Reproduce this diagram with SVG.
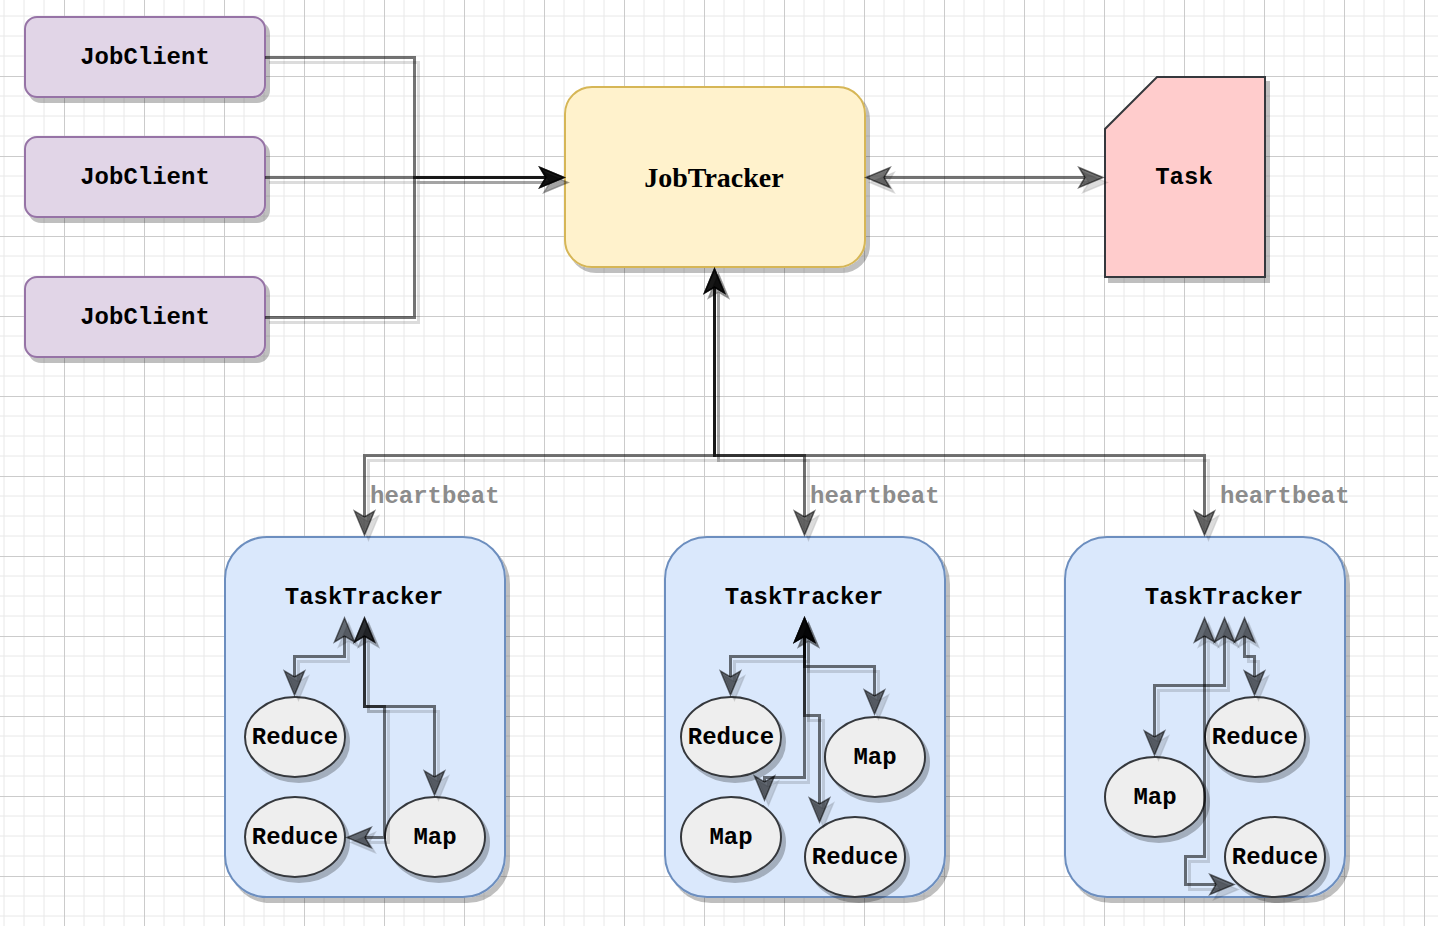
<svg xmlns="http://www.w3.org/2000/svg" width="1438" height="926" viewBox="0 0 1438 926">
<style>
.jc{fill:#e1d5e7;stroke:#9673a6;stroke-width:2}
.jt{fill:#fff2cc;stroke:#d6b656;stroke-width:2}
.tk{fill:#ffcccc;stroke:#36393d;stroke-width:2}
.tt{fill:#dae8fc;stroke:#6c8ebf;stroke-width:2}
.el{fill:#eeeeee;stroke:#36393d;stroke-width:2}
.m{font-family:"Liberation Mono","Courier New",monospace;font-weight:bold;font-size:24px;fill:#000;text-anchor:middle}
.s{font-family:"Liberation Serif","Times New Roman",serif;font-weight:bold;font-size:28px;fill:#000;text-anchor:middle}
.hb{font-family:"Liberation Mono","Courier New",monospace;font-weight:bold;font-size:24px;fill:#8c8c8c}
.e{fill:none;stroke:#000;stroke-opacity:0.55;stroke-width:3;marker-end:url(#arr);filter:url(#sh)}
.b{marker-start:url(#arr)}
</style>
<defs>
<pattern id="grid" patternUnits="userSpaceOnUse" x="-6" y="6" width="80" height="80">
<path d="M10,0V80M30,0V80M50,0V80M0,10H80M0,30H80M0,50H80" stroke="#e8e8e8" stroke-width="1" fill="none"/>
<path d="M70.5,0V80M0,70.5H80" stroke="#cbcbcb" stroke-width="1" fill="none"/>
</pattern>
<filter id="sh" filterUnits="userSpaceOnUse" x="0" y="0" width="1438" height="926">
<feOffset in="SourceAlpha" dx="4" dy="5" result="o"/>
<feColorMatrix in="o" type="matrix" values="0 0 0 0 0  0 0 0 0 0  0 0 0 0 0  0 0 0 0.25 0" result="s"/>
<feMerge><feMergeNode in="s"/><feMergeNode in="SourceGraphic"/></feMerge>
</filter>
<marker id="arr" markerUnits="userSpaceOnUse" markerWidth="26" markerHeight="22" refX="6" refY="10" orient="auto-start-reverse" overflow="visible">
<path d="M0,0L24,10L0,20L6,10Z" fill="#000" fill-opacity="0.55" stroke="#000" stroke-opacity="0.55" stroke-width="1.5" stroke-linejoin="miter"/>
</marker>
</defs>
<rect x="0" y="0" width="1438" height="926" fill="#ffffff"/>
<rect x="0" y="0" width="1438" height="926" fill="url(#grid)"/>

<g id="jobclient-1"><rect class="jc" x="25" y="17" width="240" height="80" rx="12" filter="url(#sh)"/><text class="m" x="145" y="64">JobClient</text></g>
<g id="jobclient-2"><rect class="jc" x="25" y="137" width="240" height="80" rx="12" filter="url(#sh)"/><text class="m" x="145" y="184">JobClient</text></g>
<g id="jobclient-3"><rect class="jc" x="25" y="277" width="240" height="80" rx="12" filter="url(#sh)"/><text class="m" x="145" y="324">JobClient</text></g>

<g id="jobtracker"><rect class="jt" x="565" y="87" width="300" height="180" rx="27" filter="url(#sh)"/><text class="s" x="714" y="187">JobTracker</text></g>

<g id="task"><path class="tk" d="M1157,77H1265V277H1105V129Z" filter="url(#sh)"/><text class="m" x="1184" y="184">Task</text></g>

<g id="tasktracker-1"><rect class="tt" x="225" y="537" width="280" height="360" rx="42" filter="url(#sh)"/><text class="m" x="364" y="604">TaskTracker</text></g>
<g id="tasktracker-2"><rect class="tt" x="665" y="537" width="280" height="360" rx="42" filter="url(#sh)"/><text class="m" x="804" y="604">TaskTracker</text></g>
<g id="tasktracker-3"><rect class="tt" x="1065" y="537" width="280" height="360" rx="42" filter="url(#sh)"/><text class="m" x="1224" y="604">TaskTracker</text></g>

<g id="tt1-reduce-1"><ellipse class="el" cx="295" cy="737" rx="50" ry="40" filter="url(#sh)"/><text class="m" x="295" y="744">Reduce</text></g>
<g id="tt1-reduce-2"><ellipse class="el" cx="295" cy="837" rx="50" ry="40" filter="url(#sh)"/><text class="m" x="295" y="844">Reduce</text></g>
<g id="tt1-map"><ellipse class="el" cx="435" cy="837" rx="50" ry="40" filter="url(#sh)"/><text class="m" x="435" y="844">Map</text></g>

<g id="tt2-reduce-1"><ellipse class="el" cx="731" cy="737" rx="50" ry="40" filter="url(#sh)"/><text class="m" x="731" y="744">Reduce</text></g>
<g id="tt2-map-1"><ellipse class="el" cx="875" cy="757" rx="50" ry="40" filter="url(#sh)"/><text class="m" x="875" y="764">Map</text></g>
<g id="tt2-map-2"><ellipse class="el" cx="731" cy="837" rx="50" ry="40" filter="url(#sh)"/><text class="m" x="731" y="844">Map</text></g>
<g id="tt2-reduce-2"><ellipse class="el" cx="855" cy="857" rx="50" ry="40" filter="url(#sh)"/><text class="m" x="855" y="864">Reduce</text></g>

<g id="tt3-reduce-1"><ellipse class="el" cx="1255" cy="737" rx="50" ry="40" filter="url(#sh)"/><text class="m" x="1255" y="744">Reduce</text></g>
<g id="tt3-map"><ellipse class="el" cx="1155" cy="797" rx="50" ry="40" filter="url(#sh)"/><text class="m" x="1155" y="804">Map</text></g>
<g id="tt3-reduce-2"><ellipse class="el" cx="1275" cy="857" rx="50" ry="40" filter="url(#sh)"/><text class="m" x="1275" y="864">Reduce</text></g>

<g id="connectors">
<path class="e" d="M265,57.5H414.5V177.5H546"/>
<path class="e" d="M265,177.5H546"/>
<path class="e" d="M265,317.5H414.5V177.5H546"/>
<path class="e b" d="M884,177.5H1085"/>
<path class="e b" d="M714.5,287V455.5H364.5V517"/>
<path class="e b" d="M714.5,287V455.5H804.5V517"/>
<path class="e b" d="M714.5,287V455.5H1204.5V517"/>
<text class="hb" x="370" y="503">heartbeat</text>
<text class="hb" x="810" y="503">heartbeat</text>
<text class="hb" x="1220" y="503">heartbeat</text>
<path class="e b" d="M344.5,636V656.5H294.5V677"/>
<path class="e b" d="M364.5,636V706.5H434.5V777"/>
<path class="e b" d="M364.5,636V706.5H384.5V837.5H365"/>
<path class="e b" d="M804.5,636V656.5H730.5V677"/>
<path class="e b" d="M804.5,636V666.5H874.5V696"/>
<path class="e b" d="M804.5,636V777.5H764.5V782"/>
<path class="e b" d="M804.5,636V715.5H819.5V804"/>
<path class="e b" d="M1244.5,636V656.5H1254.5V677"/>
<path class="e b" d="M1224.5,636V685.5H1154.5V737"/>
<path class="e b" d="M1204.5,636V856.5H1185.5V884.5H1216"/>
</g>
</svg>
